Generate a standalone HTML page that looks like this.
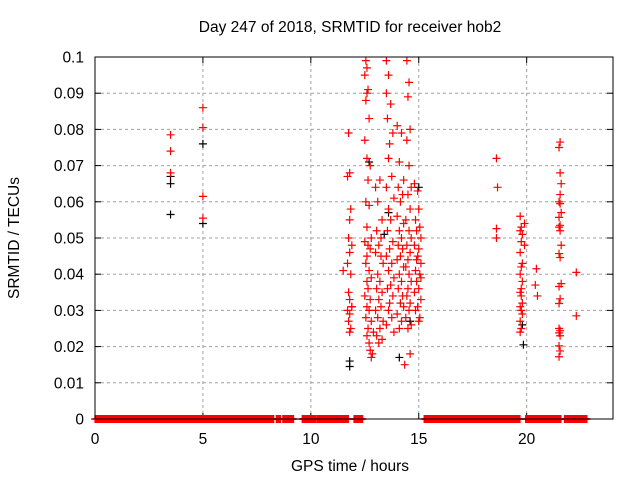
<!DOCTYPE html>
<html><head><meta charset="utf-8"><style>
body{margin:0;background:#fff}
svg{font-family:"Liberation Sans",sans-serif;font-size:15.5px}
</style></head><body>
<svg id="chart" width="640" height="480" xmlns="http://www.w3.org/2000/svg">
<rect width="640" height="480" fill="#fff"/>
<text x="350" y="32" text-anchor="middle">Day 247 of 2018, SRMTID for receiver hob2</text>
<text x="350" y="471" text-anchor="middle">GPS time / hours</text>
<text x="19" y="238" text-anchor="middle" transform="rotate(-90 19 238)">SRMTID / TECUs</text>
<g id="grid"></g>
<g id="axes"></g>
<g id="black"></g>
<g id="red"></g>
<rect x="95" y="57" width="518" height="362" fill="none" stroke="#000"/>
</svg>
<script>
const xTicks=[0,5,10,15,20];
const yTicks=[0,0.01,0.02,0.03,0.04,0.05,0.06,0.07,0.08,0.09,0.1];
const yTickLabels=["0","0.01","0.02","0.03","0.04","0.05","0.06","0.07","0.08","0.09","0.1"];
const zeroRanges=[[0,8.28],[8.4,8.6],[8.7,9.2],[9.6,10.25],[10.3,11.75],[12.0,12.4],[15.25,19.7],[19.95,21.6],[21.75,22.8]];
const redHours=[
3.5,3.5,3.5,5,5,5,5,
11.5,11.75,11.8,11.7,11.85,11.8,11.75,11.9,11.8,11.7,11.85,11.75,11.8,11.9,11.7,11.8,11.75,11.85,11.8,11.9,
12.55,12.6,12.5,12.65,12.6,12.55,12.7,12.5,12.6,12.75,12.65,12.55,12.7,12.6,12.8,12.5,12.65,12.75,12.6,12.55,12.7,12.8,12.6,12.65,12.5,12.75,12.6,12.7,12.55,12.8,12.65,12.6,12.7,12.75,12.85,12.8,12.9,
13.0,13.2,13.1,13.3,13.05,13.25,13.15,13.0,13.35,13.1,13.2,13.05,13.3,13.15,13.25,13.0,13.1,13.35,13.2,13.05,13.3,13.15,13.25,
13.5,13.6,13.5,13.7,13.55,13.8,13.65,13.6,13.75,13.5,13.85,13.6,13.7,13.55,13.8,13.65,13.5,13.75,13.6,13.85,13.7,13.55,13.8,13.65,13.6,13.75,13.5,13.85,
14.0,14.2,14.1,14.3,14.05,14.25,14.15,14.0,14.3,14.1,14.2,14.05,14.25,14.15,14.0,14.3,14.1,14.2,14.05,14.25,14.15,14.3,14.0,14.2,14.1,14.35,
14.45,14.55,14.5,14.6,14.45,14.55,14.65,14.5,14.6,14.4,14.55,14.65,14.45,14.6,14.5,14.4,14.55,14.65,14.5,14.45,14.6,14.55,14.4,14.65,14.5,14.6,
14.8,14.95,15.0,14.85,15.05,14.9,15.1,14.8,15.0,14.95,15.1,14.85,15.05,14.9,15.0,14.8,15.1,14.95,14.85,15.05,15.0,15.1,14.9,
18.6,18.65,18.6,18.6,
19.7,19.75,19.7,19.8,19.75,19.7,19.8,19.75,19.7,19.8,19.75,19.7,19.75,19.8,19.7,19.75,19.8,19.7,19.75,19.7,19.9,19.9,
20.45,20.4,20.5,22.3,22.3,
21.55,21.5,21.55,21.6,21.55,21.5,21.55,21.6,21.5,21.55,21.5,21.55,21.6,21.5,21.55,21.6,21.5,21.55,21.5,21.5,21.55,21.5,21.55,21.5,21.55,21.5];
const redValues=[
0.0785,0.074,0.068,0.086,0.0805,0.0615,0.0555,
0.041,0.079,0.068,0.067,0.058,0.055,0.05,0.048,0.046,0.043,0.04,0.035,0.033,0.031,0.03,0.029,0.027,0.025,0.024,0.031,
0.099,0.097,0.095,0.091,0.09,0.088,0.083,0.077,0.072,0.07,0.066,0.06,0.059,0.053,0.05,0.049,0.048,0.047,0.045,0.043,0.041,0.039,0.038,0.036,0.034,0.033,0.031,0.03,0.028,0.027,0.025,0.023,0.021,0.019,0.018,0.017,0.024,
0.064,0.066,0.06,0.055,0.052,0.05,0.048,0.046,0.043,0.04,0.038,0.036,0.035,0.033,0.031,0.03,0.028,0.027,0.025,0.023,0.022,0.021,0.045,
0.099,0.095,0.09,0.087,0.083,0.079,0.076,0.072,0.067,0.064,0.061,0.058,0.055,0.052,0.049,0.047,0.045,0.043,0.041,0.039,0.037,0.036,0.034,0.032,0.03,0.028,0.026,0.024,
0.081,0.079,0.071,0.066,0.064,0.062,0.06,0.056,0.054,0.052,0.05,0.048,0.047,0.045,0.044,0.042,0.04,0.038,0.036,0.034,0.032,0.031,0.029,0.027,0.025,0.015,
0.099,0.093,0.089,0.08,0.077,0.07,0.064,0.062,0.058,0.055,0.052,0.05,0.048,0.046,0.044,0.042,0.04,0.038,0.036,0.034,0.032,0.03,0.028,0.026,0.025,0.018,
0.065,0.063,0.058,0.055,0.053,0.052,0.05,0.048,0.047,0.045,0.043,0.041,0.04,0.038,0.036,0.035,0.033,0.031,0.03,0.028,0.027,0.039,0.044,
0.072,0.064,0.0526,0.05,
0.056,0.053,0.052,0.051,0.049,0.046,0.043,0.042,0.04,0.038,0.036,0.035,0.034,0.032,0.031,0.03,0.029,0.027,0.025,0.024,0.054,0.048,
0.0415,0.037,0.034,0.0405,0.0285,
0.0765,0.075,0.068,0.065,0.062,0.06,0.0595,0.057,0.0557,0.0535,0.053,0.052,0.048,0.0457,0.0446,0.0374,0.0366,0.0332,0.0319,0.025,0.0244,0.0238,0.023,0.0202,0.0188,0.0172];
const blackHours=[3.5,3.5,3.5,5,5,11.8,11.8,12.7,13.4,13.6,14.1,14.6,15.0,19.8,19.85];
const blackValues=[0.067,0.065,0.0565,0.076,0.054,0.016,0.0145,0.071,0.051,0.057,0.017,0.027,0.064,0.026,0.0205];

const L=95,R=613,T=57,B=419;
const xs=h=>L+h/24*(R-L);
const ys=v=>B-v/0.1*(B-T);
const NS="http://www.w3.org/2000/svg";
function mk(tag,attrs,parent){const e=document.createElementNS(NS,tag);for(const k in attrs)e.setAttribute(k,attrs[k]);parent.appendChild(e);return e;}
const grid=document.getElementById('grid'),axes=document.getElementById('axes');
xTicks.forEach(t=>{const x=xs(t);
 if(t>0){const g=mk('line',{x1:x,x2:x,y1:T,y2:B,stroke:'#a0a0a0','stroke-dasharray':'3,3'},grid);
 
 }
 mk('line',{x1:x,x2:x,y1:B,y2:B-6,stroke:'#000'},axes);
 mk('line',{x1:x,x2:x,y1:T,y2:T+6,stroke:'#000'},axes);
 const tx=mk('text',{x:x,y:B+25,'text-anchor':'middle'},axes);tx.textContent=t;
 
 
});
yTicks.forEach((t,i)=>{const y=ys(t);
 if(i>0&&i<yTicks.length-1){const g=mk('line',{x1:L,x2:R,y1:y,y2:y,stroke:'#a0a0a0','stroke-dasharray':'3,3'},grid);
 
 }
 mk('line',{x1:L,x2:L+6,y1:y,y2:y,stroke:'#000'},axes);
 mk('line',{x1:R,x2:R-6,y1:y,y2:y,stroke:'#000'},axes);
 const tx=mk('text',{x:L-11,y:y+5.5,'text-anchor':'end'},axes);tx.textContent=yTickLabels[i];
 
 
});
function plus(g,h,v,col){const x=xs(h),y=ys(v);
 const p=mk('path',{d:`M${x-4},${y}H${x+4}M${x},${y-4}V${y+4}`,stroke:col,'stroke-width':1.2,fill:'none'},g);
 
 }
const bg=document.getElementById('black'),rg=document.getElementById('red');
blackHours.forEach((h,i)=>plus(bg,h,blackValues[i],'#000'));
zeroRanges.forEach(r=>{for(let h=r[0];h<=r[1]+1e-9;h+=0.02)plus(rg,h,0,'#ff0000');});
redHours.forEach((h,i)=>plus(rg,h,redValues[i],'#ff0000'));
</script>
</body></html>
